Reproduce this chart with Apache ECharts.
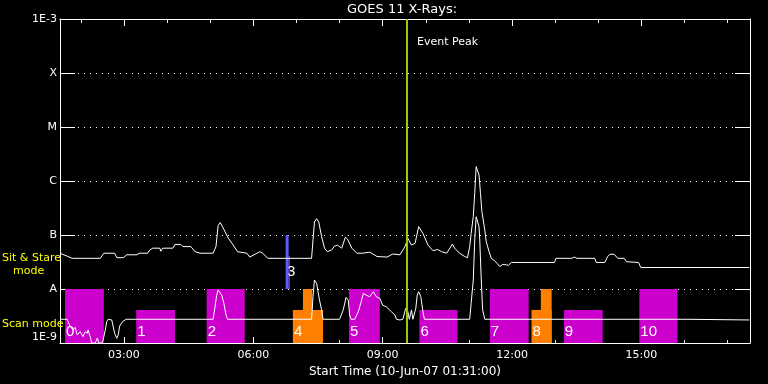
<!DOCTYPE html>
<html><head><meta charset="utf-8">
<script src="https://cdn.jsdelivr.net/npm/echarts@6/dist/echarts.min.js"></script>
<style>html,body{margin:0;padding:0;background:#000}#c{width:768px;height:384px}</style>
</head><body><div id="c"></div>
<script>
// ---- data ----
const titleText = 'GOES 11 X-Rays:';
const xAxisName = 'Start Time (10-Jun-07 01:31:00)';
const startTime = '01:31';
const spanHours = 16;
const majorTickHours = [3, 6, 9, 12, 15];
const minorTickHours = [2, 4, 5, 7, 8, 10, 11, 13, 14, 16, 17];
const yTickLabels = ['1E-9', 'A', 'B', 'C', 'M', 'X', '1E-3'];

const upperTimes = ['01:31','01:42','01:48','02:27','02:32','02:47','02:50','02:59','03:04','03:18','03:21','03:33','03:36','03:40','03:50','03:51','03:54','04:08','04:11','04:19','04:22','04:33','04:39','04:46','05:04','05:08','05:11','05:14','05:18','05:25','05:32','05:38','05:51','05:55','06:05','06:09','06:13','06:20','07:21','07:23','07:25','07:28','07:31','07:35','07:39','07:43','07:49','07:53','07:57','08:03','08:08','08:11','08:17','08:24','08:32','08:42','08:52','09:06','09:14','09:24','09:31','09:35','09:40','09:45','09:50','09:56','10:03','10:10','10:16','10:22','10:29','10:37','10:40','10:47','10:54','10:58','11:01','11:03','11:06','11:08','11:10','11:12','11:14','11:16','11:18','11:22','11:24','11:28','11:31','11:36','11:39','11:43','11:47','11:52','11:55','11:59','12:59','13:01','13:23','13:27','13:30','13:55','13:57','14:09','14:13','14:16','14:22','14:27','14:36','14:39','14:56','14:59','17:30'];
const upperFlux = [4.6e-8,4.0e-8,3.7e-8,3.7e-8,4.6e-8,4.6e-8,3.8e-8,3.8e-8,4.3e-8,4.3e-8,4.6e-8,4.6e-8,5.3e-8,5.7e-8,5.7e-8,5.0e-8,5.7e-8,5.7e-8,6.7e-8,6.7e-8,6.1e-8,6.1e-8,4.9e-8,4.6e-8,4.6e-8,6.1e-8,1.5e-7,1.7e-7,1.35e-7,8.8e-8,6.5e-8,4.9e-8,4.6e-8,3.9e-8,4.6e-8,4.9e-8,4.6e-8,3.7e-8,3.7e-8,8.1e-8,1.74e-7,2.0e-7,1.74e-7,9.3e-8,5.7e-8,4.9e-8,5.3e-8,6.25e-8,6.5e-8,5.7e-8,9.1e-8,8.4e-8,5.7e-8,4.6e-8,4.6e-8,4.8e-8,4.0e-8,3.9e-8,4.45e-8,4.3e-8,6.1e-8,8.7e-8,6.5e-8,7.0e-8,1.43e-7,1.07e-7,6.5e-8,5.1e-8,5.4e-8,4.9e-8,4.6e-8,6.8e-8,5.7e-8,4.6e-8,4.0e-8,3.8e-8,6.1e-8,1.07e-7,2.2e-7,5.9e-7,1.84e-6,1.98e-6,1.29e-6,5.9e-7,2.7e-7,1.24e-7,7.5e-8,4.9e-8,3.7e-8,3.3e-8,3.0e-8,2.6e-8,2.85e-8,2.8e-8,2.75e-8,3.1e-8,3.1e-8,3.7e-8,3.7e-8,3.9e-8,3.7e-8,3.7e-8,3.1e-8,3.1e-8,4.0e-8,4.4e-8,4.4e-8,3.7e-8,3.7e-8,3.2e-8,3.1e-8,2.5e-8,2.5e-8];

const lowerTimes = ['01:31','01:41','01:42','01:45','01:49','01:52','01:55','01:59','02:03','02:06','02:09','02:10','02:13','02:15','02:20','02:23','02:25','02:29','02:31','02:34','02:36','02:38','02:43','02:45','02:47','02:50','02:52','02:54','02:58','03:03','05:04','05:06','05:09','05:11','05:13','05:16','05:19','05:22','05:24','07:21','07:23','07:25','07:28','07:30','07:32','07:35','07:37','08:00','08:05','08:09','08:12','08:14','08:16','08:21','08:26','08:30','08:33','08:37','08:42','08:47','08:51','08:56','09:00','09:05','09:12','09:17','09:19','09:24','09:28','09:32','09:35','09:37','09:40','09:42','09:46','09:48','09:50','09:53','09:56','09:58','11:01','11:03','11:06','11:08','11:10','11:12','11:14','11:15','11:17','11:19','11:22','16:02','16:04','17:30'];
const lowerFlux = [2.75e-9,2.75e-9,2.5e-9,2.06e-9,1.74e-9,1.95e-9,1.41e-9,1.62e-9,1.31e-9,1.62e-9,1.51e-9,1.74e-9,1.31e-9,1.0e-9,1.0e-9,1.24e-9,1.0e-9,1.0e-9,1.14e-9,1.74e-9,2.48e-9,2.75e-9,2.67e-9,2.48e-9,1.51e-9,1.22e-9,1.41e-9,2.06e-9,2.48e-9,2.75e-9,2.75e-9,4.1e-9,7.7e-9,9.6e-9,9.3e-9,7.7e-9,5.4e-9,3.3e-9,2.75e-9,2.75e-9,7.2e-9,1.47e-8,1.28e-8,8.9e-9,6.25e-9,4.1e-9,2.75e-9,2.75e-9,4.1e-9,7.0e-9,6.25e-9,3.3e-9,2.75e-9,2.75e-9,3.8e-9,5.8e-9,8.3e-9,7.7e-9,7.2e-9,8.9e-9,7.2e-9,6.7e-9,5.0e-9,4.7e-9,3.8e-9,3.3e-9,2.75e-9,2.67e-9,2.75e-9,4.4e-9,3.8e-9,2.75e-9,4.1e-9,2.75e-9,4.4e-9,7.7e-9,8.9e-9,7.2e-9,3.8e-9,2.75e-9,2.75e-9,5.4e-9,1.47e-8,8.1e-8,2.18e-7,2.15e-7,1.43e-7,8.1e-8,1.6e-8,4.1e-9,2.75e-9,2.75e-9,2.67e-9,2.67e-9];

const barStart = ['01:38','03:17','04:55','06:49','06:55','07:09','08:13','09:51','11:29','12:27','12:40','13:12','14:57'];
const barEnd   = ['02:32','04:11','05:48','06:51','07:37','07:22','08:56','10:44','12:23','12:55','12:55','14:06','15:50'];
const barBase  = [1e-9,1e-9,1e-9,1e-8,1e-9,1e-9,1e-9,1e-9,1e-9,1e-9,1e-9,1e-9,1e-9];
const barTop   = [1e-8,4.1e-9,1e-8,4.1e-8,4.1e-9,1e-8,1e-8,4.1e-9,1e-8,4.1e-9,1e-8,4.1e-9,1e-8];
const barKind  = ['scan','scan','scan','stare','alt','alt','scan','scan','scan','alt','alt','scan','scan'];
const barLabel = ['0','1','2','3','4','','5','6','7','8','','9','10'];

const stareMarkTime = ['06:47'];
const stareMarkLow = [1e-8];
const stareMarkHigh = [1e-7];

const eventPeakTime = '09:33';
const eventPeakLabel = 'Event Peak';
const sideLabels = ['Sit & Stare', 'mode', 'Scan mode'];

// ---- helpers / styles ----
function toH(s){ const p = s.split(':'); return (+p[0]) + (+p[1]) / 60; }
const T0 = toH(startTime), T1 = T0 + spanHours;
const kindColor = { scan: '#cc00cc', stare: '#cc00cc', alt: '#ff8000' };
const FONT = 'DejaVu Sans';
const WHITE = '#ffffff';

const upperData = upperTimes.map((t, i) => [toH(t), upperFlux[i]]);
const lowerData = lowerTimes.map((t, i) => [toH(t), lowerFlux[i]]);
const barData = barStart.map((s, i) => [toH(s), toH(barEnd[i]), barBase[i], barTop[i]]);
const stareData = stareMarkTime.map((t, i) => [toH(t), stareMarkLow[i], stareMarkHigh[i]]);

function hhmm(h){ return (h < 10 ? '0' : '') + h + ':00'; }

const chart = echarts.init(document.getElementById('c'), null, { renderer: 'canvas' });
const baseX = { type: 'value', min: T0, max: T1, splitLine: { show: false } };
chart.setOption({
  backgroundColor: '#000',
  animation: false,
  title: { text: titleText, left: 347, top: 3, padding: 0,
    textStyle: { color: WHITE, fontSize: 13, fontWeight: 'normal', fontFamily: FONT } },
  grid: { left: 60, right: 18, top: 19, bottom: 41 },
  xAxis: [
    Object.assign({}, baseX, { position: 'bottom',
      axisLine: { show: true, lineStyle: { color: WHITE, width: 1 } },
      axisTick: { show: true, inside: true, length: 6, customValues: majorTickHours, lineStyle: { color: WHITE } },
      axisLabel: { show: true, customValues: majorTickHours, formatter: v => hhmm(Math.round(v)), color: WHITE, fontSize: 11, fontFamily: FONT, margin: 7 },
      name: xAxisName, nameLocation: 'middle', nameGap: 20,
      nameTextStyle: { color: WHITE, fontSize: 12, fontFamily: FONT } }),
    Object.assign({}, baseX, { position: 'bottom',
      axisLine: { show: false },
      axisTick: { show: true, inside: true, length: 3, customValues: minorTickHours, lineStyle: { color: WHITE } },
      axisLabel: { show: false } }),
    Object.assign({}, baseX, { position: 'top',
      axisLine: { show: true, lineStyle: { color: WHITE, width: 1 } },
      axisTick: { show: true, inside: true, length: 7, customValues: majorTickHours, lineStyle: { color: WHITE } },
      axisLabel: { show: false } }),
    Object.assign({}, baseX, { position: 'top',
      axisLine: { show: false },
      axisTick: { show: true, inside: true, length: 4, customValues: minorTickHours, lineStyle: { color: WHITE } },
      axisLabel: { show: false } })
  ],
  yAxis: [
    { type: 'log', logBase: 10, min: 1e-9, max: 1e-3, splitNumber: 6, position: 'left',
      axisLine: { show: true, lineStyle: { color: WHITE } },
      axisTick: { show: true, inside: true, length: 15, lineStyle: { color: WHITE } },
      axisLabel: { color: WHITE, fontSize: 11, fontFamily: FONT, margin: 3,
        verticalAlignMinLabel: 'bottom', verticalAlignMaxLabel: 'top',
        formatter: v => yTickLabels[Math.round(Math.log10(v)) + 9] || '' },
      splitLine: { show: true, lineStyle: { color: WHITE, width: 1, type: [1, 5] } } },
    { type: 'log', logBase: 10, min: 1e-9, max: 1e-3, splitNumber: 6, position: 'right',
      axisLine: { show: true, lineStyle: { color: WHITE } },
      axisTick: { show: true, inside: true, length: 15, lineStyle: { color: WHITE } },
      axisLabel: { show: false }, splitLine: { show: false } }
  ],
  series: [
    { type: 'custom', name: 'obs', xAxisIndex: 0, yAxisIndex: 0, z: 1,
      encode: { x: [0, 1], y: [2, 3] }, data: barData,
      renderItem(params, api) {
        const i = params.dataIndex;
        const p0 = api.coord([api.value(0), api.value(3)]);
        const p1 = api.coord([api.value(1), api.value(2)]);
        const kind = barKind[i];
        const children = [{ type: 'rect',
          shape: { x: p0[0], y: p0[1], width: p1[0] - p0[0], height: p1[1] - p0[1] },
          style: { fill: kindColor[kind] } }];
        if (barLabel[i]) {
          children.push({ type: 'text', z2: 10,
            x: p0[0] + (kind === 'stare' ? -1.5 : 1),
            y: p1[1] - (kind === 'stare' ? 17 : 11),
            style: { text: barLabel[i], fill: WHITE, font: '15px "Liberation Sans"', verticalAlign: 'middle', align: 'left' } });
        }
        return { type: 'group', children };
      } },
    { type: 'custom', name: 'stare', xAxisIndex: 0, yAxisIndex: 0, z: 2,
      encode: { x: 0, y: [1, 2] }, data: stareData,
      renderItem(params, api) {
        const lo = api.coord([api.value(0), api.value(1)]);
        const hi = api.coord([api.value(0), api.value(2)]);
        return { type: 'rect', shape: { x: lo[0] - 1.5, y: hi[1], width: 3, height: lo[1] - hi[1] },
          style: { fill: '#5c5cff' } };
      } },
    { type: 'line', name: 'long', xAxisIndex: 0, yAxisIndex: 0, z: 3, data: upperData,
      showSymbol: false, symbol: 'none', lineStyle: { color: WHITE, width: 1 }, clip: true },
    { type: 'line', name: 'short', xAxisIndex: 0, yAxisIndex: 0, z: 3, data: lowerData,
      showSymbol: false, symbol: 'none', lineStyle: { color: WHITE, width: 1 }, clip: true },
    { type: 'line', name: 'peak', xAxisIndex: 0, yAxisIndex: 0, z: 5, data: [],
      markLine: { silent: true, symbol: ['none', 'none'], animation: false,
        label: { show: false },
        lineStyle: { color: '#99cc00', width: 2, type: 'solid' },
        data: [{ xAxis: toH(eventPeakTime) }] } }
  ],
  graphic: [
    { type: 'text', left: 417, top: 37, z: 10, style: { text: eventPeakLabel, fill: WHITE, font: '11px "' + FONT + '"' } },
    { type: 'text', left: 2, top: 253, z: 10, style: { text: sideLabels[0], fill: '#ffff00', font: '11px "' + FONT + '"' } },
    { type: 'text', left: 13, top: 266, z: 10, style: { text: sideLabels[1], fill: '#ffff00', font: '11px "' + FONT + '"' } },
    { type: 'text', left: 2, top: 319, z: 10, style: { text: sideLabels[2], fill: '#ffff00', font: '11px "' + FONT + '"' } }
  ]
});
</script></body></html>
